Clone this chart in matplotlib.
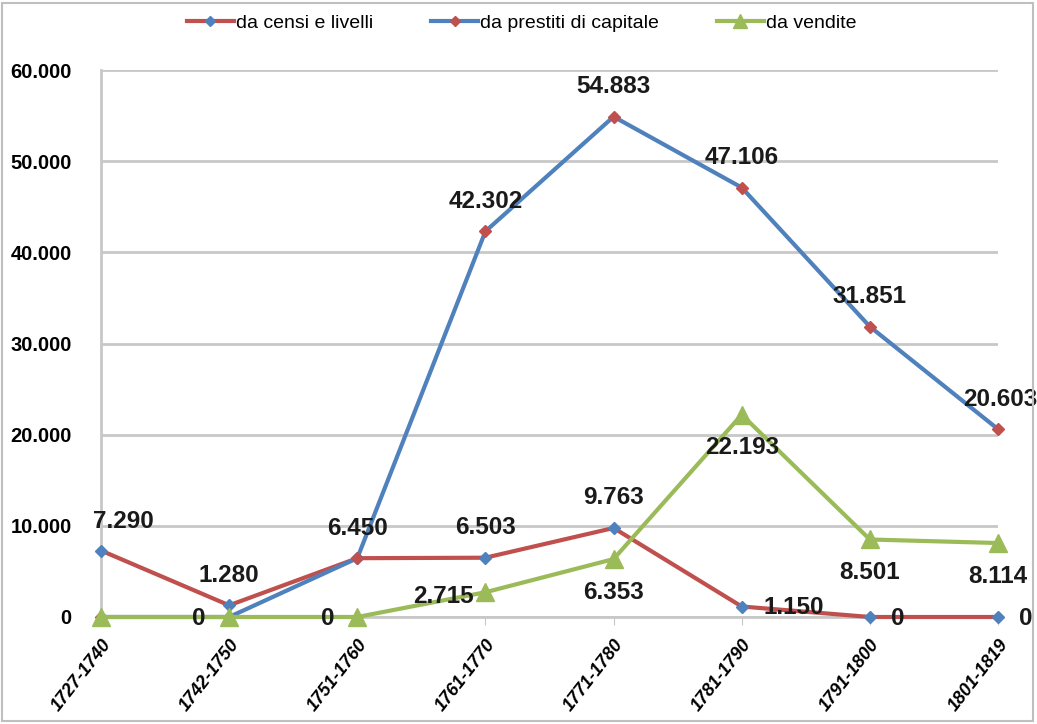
import matplotlib.pyplot as plt
from matplotlib.lines import Line2D
from matplotlib.patches import Rectangle
from matplotlib.ticker import FuncFormatter

plt.rcParams['font.family'] = ['Liberation Sans', 'DejaVu Sans']

periods = ['1727-1740', '1742-1750', '1751-1760', '1761-1770',
           '1771-1780', '1781-1790', '1791-1800', '1801-1819']
censi = [7290, 1280, 6450, 6503, 9763, 1150, 0, 0]
prestiti = [0, 0, 6450, 42302, 54883, 47106, 31851, 20603]
vendite = [0, 0, 0, 2715, 6353, 22193, 8501, 8114]

RED = '#C0504D'
BLUE = '#4F81BD'
GREEN = '#9BBB59'


def fmt(v):
    return f'{v:,.0f}'.replace(',', '.')


fig = plt.figure(figsize=(10.37, 7.24), dpi=100)
ax = fig.add_axes([0.0974, 0.1478, 0.8650, 0.7555])
x = list(range(len(periods)))

ax.plot(x, censi, color=RED, lw=3, marker='D', ms=6,
        mfc=BLUE, mec=BLUE, zorder=3, clip_on=False)
ax.plot(x, prestiti, color=BLUE, lw=3, marker='D', ms=6,
        mfc=RED, mec=RED, zorder=4, clip_on=False)
ax.plot(x, vendite, color=GREEN, lw=3, marker='^', ms=13,
        mfc=GREEN, mec=GREEN, zorder=5, clip_on=False)

lab = dict(fontsize=17.5, fontweight='bold', color='#1a1a1a',
           ha='center', va='center', zorder=6)

# censi e livelli labels (above, last ones to the right)
for i, v in enumerate(censi):
    if i == 0:
        off = (22, 29)
    elif i == 5:
        off = (52, -1)
    elif i >= 6:
        off = (28, -2)
    else:
        off = (0, 30)
    ax.annotate(fmt(v), (i, v), xytext=off, textcoords='offset pixels', **lab)

# prestiti labels (above)
for i, v in enumerate(prestiti):
    if i < 3:
        continue
    off = (2, 30) if i == 7 else (0, 30)
    ax.annotate(fmt(v), (i, v), xytext=off, textcoords='offset pixels', **lab)

# vendite labels
for i, v in enumerate(vendite):
    if i == 0:
        continue
    if i < 3:
        off = (-30, -2)
    elif i == 3:
        off = (-42, -4)
    else:
        off = (0, -33)
    ax.annotate(fmt(v), (i, v), xytext=off, textcoords='offset pixels', **lab)

ax.set_xlim(0, len(periods) - 1)
ax.set_ylim(0, 60000)
ax.set_yticks(range(0, 60001, 10000))
ax.yaxis.set_major_formatter(FuncFormatter(lambda v, p: fmt(v)))
ax.grid(axis='y', color='#C8C8C8', lw=2)
ax.set_axisbelow(True)

ax.set_xticks(x)
ax.set_xticklabels(periods, rotation=52, ha='right', rotation_mode='anchor',
                   fontsize=13, fontweight='bold', fontstyle='italic')
ax.tick_params(axis='x', length=6, color='#C8C8C8', pad=8)
ax.tick_params(axis='y', length=0, pad=21, labelsize=14.5)
for t in ax.get_yticklabels():
    t.set_fontweight('bold')

for s in ['top', 'right']:
    ax.spines[s].set_visible(False)
ax.spines['left'].set_color('#C8C8C8')
ax.spines['left'].set_linewidth(2)
ax.spines['bottom'].set_color('#C8C8C8')
ax.spines['bottom'].set_linewidth(2)

handles = [
    Line2D([], [], color=RED, lw=3, marker='D', ms=5, mfc=BLUE, mec=BLUE),
    Line2D([], [], color=BLUE, lw=3, marker='D', ms=5, mfc=RED, mec=RED),
    Line2D([], [], color=GREEN, lw=3, marker='^', ms=10, mfc=GREEN, mec=GREEN),
]
fig.legend(handles, ['da censi e livelli', 'da prestiti di capitale', 'da vendite'],
           loc='center', bbox_to_anchor=(0.503, 0.968), ncol=3, frameon=False,
           fontsize=14, handlelength=2.4, handletextpad=0.1, columnspacing=3.0)

fig.patches.append(Rectangle((0.002, 0.004), 0.994, 0.992, transform=fig.transFigure,
                             fill=False, edgecolor='#BFBFBF', lw=1.5))

fig.savefig('out.png', dpi=100)
